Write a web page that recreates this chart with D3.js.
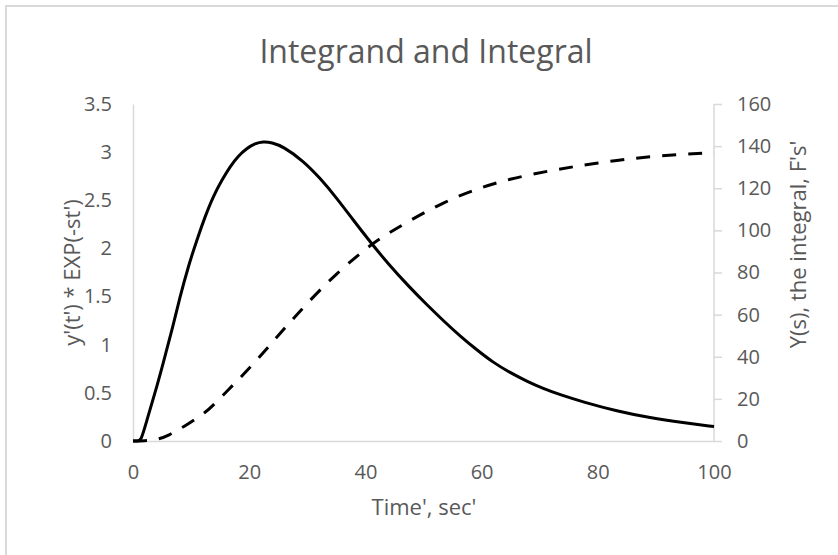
<!DOCTYPE html>
<html>
  <head>
    <title>Integrand and Integral</title>
    <script src="https://d3js.org/d3.v7.min.js"></script>
    <style>
      body {
        margin: 0;
        background: white;
      }
      .frame {
        fill: white;
        stroke: #d9d9d9;
        stroke-width: 2px;
      }
      .tick text {
        fill: #595959;
        font-family: "Open Sans", sans-serif;
        font-size: 20px;
      }
      .title {
        fill: #595959;
        font-family: "Open Sans", sans-serif;
      }
    </style>
  </head>
  <body>
    <div id="chart"></div>

    <script>
      // time values (sec) and integrand y'(t') * EXP(-st')
      const integrandTime = [0, 0.7, 1.4, 2.3, 3.8, 5.2, 6.7, 8.1, 9.5, 11, 12.4, 13.8, 15.3, 16.7, 18.1, 19.6, 21, 22.4, 23.9, 25.8,
        29.3, 32.2, 35.1, 37.9, 40.8, 43.7, 47.7, 50.5, 53.4, 56.3, 59.2, 62, 64.9, 67.8, 70.6, 73.5, 77.5, 83.3, 89, 94.7, 100];
      const integrandValue = [0, 0, 0, 0.2, 0.5, 0.81, 1.15, 1.5, 1.81, 2.09, 2.33, 2.54, 2.71, 2.85, 2.96, 3.04, 3.09, 3.11, 3.1, 3.06,
        2.91, 2.73, 2.52, 2.295, 2.07, 1.855, 1.59, 1.42, 1.25, 1.09, 0.945, 0.815, 0.71, 0.62, 0.545, 0.48, 0.405, 0.31, 0.24, 0.19, 0.15];

      // running integral Y(s), F's'
      const integralTime = [0, 2, 4.1, 6, 9.2, 12.7, 13.8, 17.2, 19.6, 23.6, 25.3, 29.3, 35.1, 40.8, 42.5, 47.7, 53.4,
        59.2, 64.9, 71.8, 77.5, 83.3, 89, 94.7, 100];
      const integralValue = [0, 0.1, 0.6, 2.4, 7.5, 14, 17, 26.5, 33.2, 45.6, 51, 63.5, 80, 92.8, 96.2, 104.8, 113.3,
        119.8, 124.5, 128.4, 131, 133.3, 135, 136.1, 137];

      const xTicks = [0, 20, 40, 60, 80, 100];
      const leftTicks = [0, 0.5, 1, 1.5, 2, 2.5, 3, 3.5];
      const rightTicks = [0, 20, 40, 60, 80, 100, 120, 140, 160];

      const W = 838, H = 555;
      const margin = { top: 104, right: 124, bottom: 114, left: 133 };
      const width = W - margin.left - margin.right;
      const height = H - margin.top - margin.bottom;

      const svg = d3.select("#chart").append("svg").attr("width", W).attr("height", H);

      // chart border
      svg.append("rect").attr("class", "frame").attr("x", 6).attr("y", 6).attr("width", W + 10).attr("height", H + 10);

      const g = svg.append("g").attr("transform", `translate(${margin.left},${margin.top})`);

      const x = d3.scaleLinear().domain([0, 100]).range([0, width]);
      const yL = d3.scaleLinear().domain([0, 3.5]).range([height, 0]);
      const yR = d3.scaleLinear().domain([0, 160]).range([height, 0]);

      // axes
      const xAxis = g.append("g")
        .attr("transform", `translate(0,${height})`)
        .call(d3.axisBottom(x).tickValues(xTicks).tickSize(0).tickPadding(24));
      const leftAxis = g.append("g")
        .call(d3.axisLeft(yL).tickValues(leftTicks).tickSize(0).tickPadding(21).tickFormat((d) => d3.format("")(d)));
      const rightAxis = g.append("g")
        .attr("transform", `translate(${width},0)`)
        .call(d3.axisRight(yR).tickValues(rightTicks).tickSize(8).tickPadding(15));

      [xAxis, leftAxis, rightAxis].forEach((a) => {
        a.select(".domain").attr("stroke", "#d9d9d9").attr("stroke-width", 1.5);
        a.selectAll(".tick line").attr("stroke", "#d9d9d9").attr("stroke-width", 1.5);
      });
      rightAxis.select(".domain").attr("d", `M0,${height}V0`);

      const integrand = integrandTime.map((t, i) => ({ t, v: integrandValue[i] }));
      const integral = integralTime.map((t, i) => ({ t, v: integralValue[i] }));

      g.append("path")
        .datum(integral)
        .attr("fill", "none")
        .attr("stroke", "black")
        .attr("stroke-width", 3)
        .attr("stroke-dasharray", "14,12")
        .attr("d", d3.line().x((d) => x(d.t)).y((d) => yR(d.v)).curve(d3.curveBasis));

      g.append("path")
        .datum(integrand)
        .attr("fill", "none")
        .attr("stroke", "black")
        .attr("stroke-width", 3)
        .attr("d", d3.line().x((d) => x(d.t)).y((d) => yL(d.v)).curve(d3.curveBasis));

      // titles
      svg.append("text")
        .attr("class", "title")
        .attr("x", 426)
        .attr("y", 63)
        .attr("text-anchor", "middle")
        .style("font-size", "32px")
        .text("Integrand and Integral");

      svg.append("text")
        .attr("class", "title")
        .attr("x", 424)
        .attr("y", 515)
        .attr("text-anchor", "middle")
        .style("font-size", "22px")
        .text("Time', sec'");

      svg.append("text")
        .attr("class", "title")
        .attr("transform", `translate(80,${margin.top + height / 2}) rotate(-90)`)
        .attr("text-anchor", "middle")
        .style("font-size", "22px")
        .text("y'(t') * EXP(-st')");

      svg.append("text")
        .attr("class", "title")
        .attr("transform", `translate(806,${margin.top + height / 2 - 28}) rotate(-90)`)
        .attr("text-anchor", "middle")
        .style("font-size", "22px")
        .text("Y(s), the integral, F's'");
    </script>
  </body>
</html>
